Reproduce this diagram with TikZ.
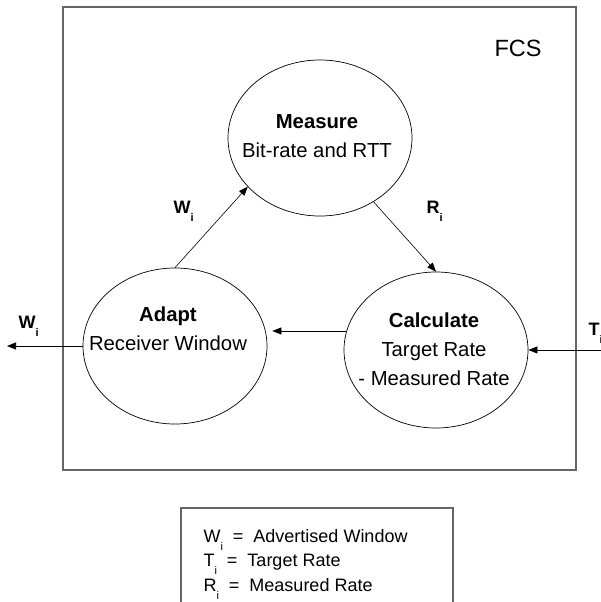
\documentclass[tikz,border=0pt]{standalone}
\usepackage{fontspec}
\setmainfont{Liberation Sans}
\usetikzlibrary{shapes.geometric,arrows.meta}
\newcommand{\subidx}[1]{\raisebox{-0.45em}{\fontsize{11}{11}\selectfont #1}}

\begin{document}
\begin{tikzpicture}[x=1pt,y=-1pt,
  stage/.style={draw,ellipse,minimum width=184pt,minimum height=156pt,inner sep=0pt,line width=0.7pt},
  stagetext/.style={align=center,inner sep=0pt,font=\fontsize{20.3}{29}\selectfont},
  flow/.style={-{Triangle[length=9pt,width=7pt]},line width=0.6pt},
  sig/.style={anchor=base west,font=\fontsize{18}{18}\selectfont\bfseries},
  key/.style={anchor=base west,font=\fontsize{18}{18}\selectfont}]
\useasboundingbox (0,0) rectangle (601,602);
\draw[black!60,line width=1.1pt] (63,7) rectangle (576,470);
\node[font=\fontsize{23.5}{24}\selectfont] (fcs) at (518,48) {FCS};
\draw (320,138) node[stage](measure) {};
\draw (175,346) node[stage](adapt) {};
\draw (436,350) node[stage](calc) {};
\node[stagetext] (measuretxt) at (317,136) {\textbf{Measure}\\Bit-rate and RTT};
\node[stagetext] (adapttxt) at (168,329) {\textbf{Adapt}\\Receiver Window};
\node[stagetext] (calctxt) at (434,349) {\textbf{Calculate}\\Target Rate\\- Measured Rate};
\coordinate (wout) at (7,346);
\coordinate (tin) at (601,350);
\draw[flow] (adapt.north) -- (measure.214);
\draw[flow] (measure.310) -- (calc.north);
\draw[flow,shorten >=5pt] (calc.168) -- (calc.168 -| adapt.east);
\draw[flow] (adapt.west) -- (wout);
\draw[flow] (tin) -- (calc.east);
\node[sig] (wmid) at (170,213) {W\subidx{i}};
\node[sig] (rmid) at (423,213) {R\subidx{i}};
\node[sig] (wleft) at (15,328) {W\subidx{i}};
\node[sig] (tright) at (585,335) {T\subidx{i}};
% legend
\draw[black!60,line width=1.1pt] (181,602) -- (181,508) -- (453,508) -- (453,602);
\node[key] (keyw) at (200,542) {W\subidx{i}~~=~~Advertised Window};
\node[key] (keyt) at (200,566) {T\subidx{i}~~=~~Target Rate};
\node[key] (keyr) at (200,591) {R\subidx{i}~~=~~Measured Rate};
\end{tikzpicture}
\end{document}
